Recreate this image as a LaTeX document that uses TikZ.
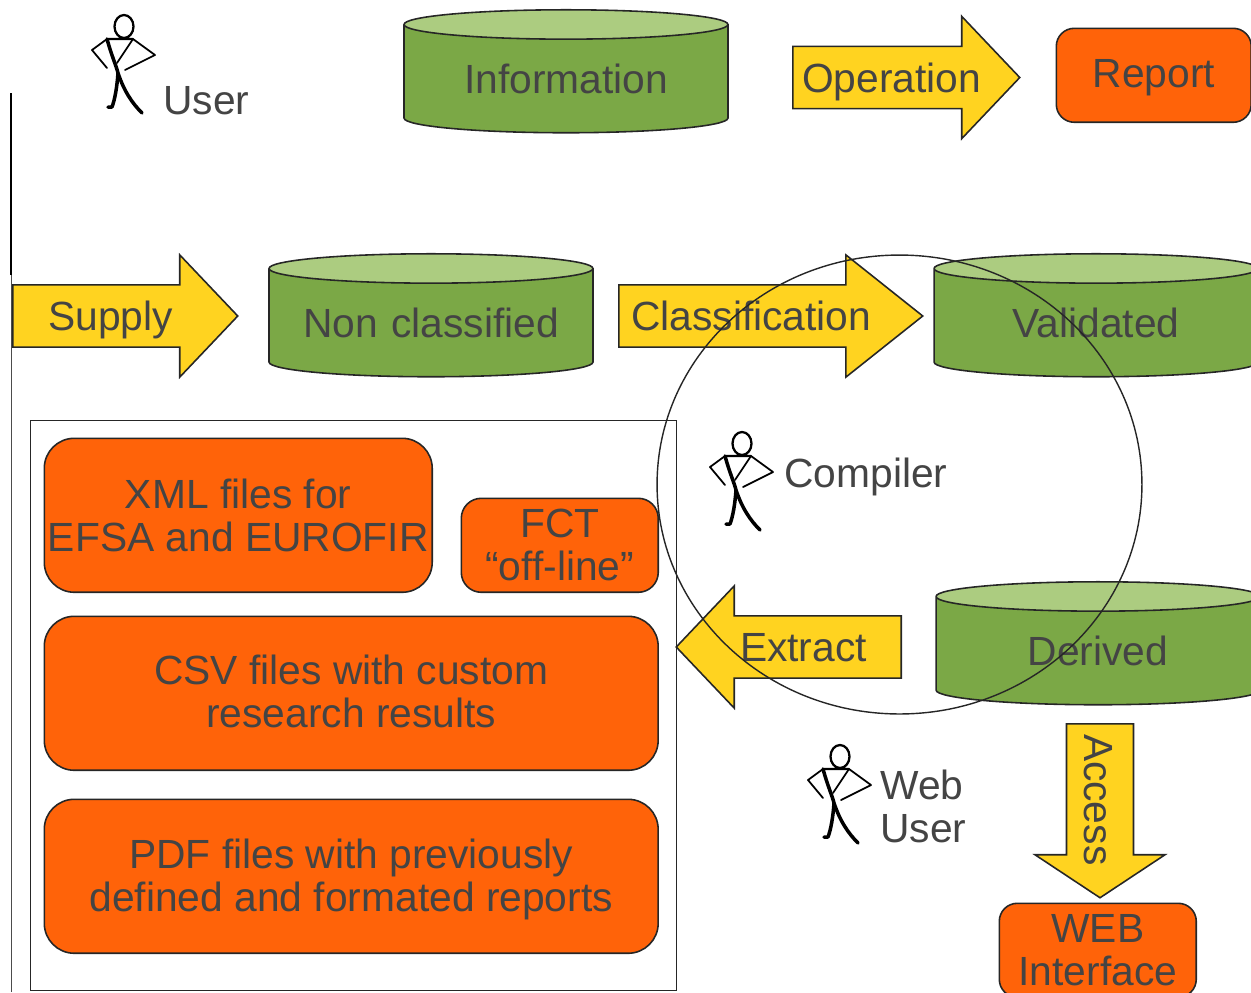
\documentclass[tikz,border=0pt]{standalone}
\usepackage{fontspec}
\setmainfont{Liberation Sans}
\usetikzlibrary{shapes.geometric,shapes.arrows}
\definecolor{boxorange}{HTML}{FF6309}
\definecolor{dbgreen}{HTML}{7BA846}
\definecolor{dbtop}{HTML}{ACCC80}
\definecolor{flowyellow}{HTML}{FFD320}
\definecolor{inktext}{HTML}{444444}

\begin{document}
\begin{tikzpicture}[
    x=0.02cm, y=-0.02cm,
    every node/.style={font=\fontsize{23.2}{24.4}\selectfont, text=inktext, align=center, inner sep=0pt},
    report/.style={draw=black!85, line width=0.9pt, fill=boxorange, rounded corners=#1, anchor=north west},
    store/.style={draw=black!85, line width=0.9pt, cylinder, shape border rotate=90, shape aspect=0.113,
        cylinder uses custom fill, cylinder body fill=dbgreen, cylinder end fill=dbtop,
        text width=5.2cm, minimum width=6.48cm, minimum height=2.46cm},
    flow/.style={draw=black!85, line width=0.9pt, fill=flowyellow, single arrow, single arrow head extend=0.6cm,
        single arrow tip angle=93, minimum width=2.42cm, text height=25.5pt, text depth=9pt, anchor=tail},
    person/.style={anchor=west},
    stickman/.pic={
        \draw[line width=1.3pt, line cap=round, line join=round, black]
            (34,11.5) ellipse (9.5 and 11.5)
            (17,24) -- (43,24);
        \draw[line width=2pt, line cap=round, line join=round, black]
            (17,24) .. controls (22,42) and (26,50) .. (28,58)
            (28,58) .. controls (27,72) and (25,84) .. (22,92) -- (18,92)
            (28,58) .. controls (34,76) and (42,88) .. (52,98);
        \draw[line width=1pt, line cap=round, line join=round, black]
            (43,24) -- (27,48)
            (17,24) -- (2,35) -- (17,53)
            (43,24) -- (65,40) -- (35,55);
    }
]
\path[use as bounding box, clip] (0,0) rectangle (1251,992);

% Left rail
\coordinate (railtop) at (11,93);
\coordinate (railmid) at (11,275);
\coordinate (railend) at (11,992);
\draw[line width=1.1pt, black] (railtop) -- (railmid);
\draw[line width=0.5pt, black!70] (railmid) -- (railend);

% Top row
\pic (user) at (90,15) {stickman};
\node[person] (userlabel) at (163,101) {User};
\node[store] (information) at (566,79) {Information};
\node[flow, minimum height=4.54cm] (operation) at (792,77.5) {Operation};
\node[report=18*0.02cm, minimum width=3.9cm, minimum height=1.88cm, label={[yshift=-1.2pt]center:Report}] (report) at (1055.5,27.5) {};

% Middle row
\node[flow, minimum height=4.5cm] (supply) at (12,316) {Supply};
\node[store] (nonclassified) at (431,323) {Non classified};
\node[flow, single arrow tip angle=77, minimum height=6.08cm] (classification) at (618,316) {Classification};
\node[store] (validated) at (1096,323) {Validated};

% Output files
\node[draw=black!85, line width=0.7pt, fill=white, anchor=north west, minimum width=12.92cm, minimum height=11.4cm] (files) at (30,420) {};
\node[report=30*0.02cm, minimum width=7.76cm, minimum height=3.08cm] (xml) at (43.5,437.5) {XML files for\\EFSA and EUROFIR};
\node[report=20*0.02cm, minimum width=3.94cm, minimum height=1.88cm] (fct) at (460.5,497.5) {FCT\\“off-line”};
\node[report=30*0.02cm, minimum width=12.28cm, minimum height=3.08cm, label={[yshift=1.1pt]center:CSV files with custom\\research results}] (csv) at (43.5,615.5) {};
\node[report=30*0.02cm, minimum width=12.28cm, minimum height=3.08cm, label={[yshift=-2pt]center:PDF files with previously\\defined and formated reports}] (pdf) at (43.5,798.5) {};

% Compiler
\pic (compiler) at (708,432) {stickman};
\node[person] (compilerlabel) at (784,477) {Compiler};
\node[store] (derived) at (1098,651) {Derived};
\node[flow, shape border rotate=180, minimum height=4.5cm] (extract) at (902,647) {Extract};

% Web user
\pic (webuser) at (806,745) {stickman};
\node[person, align=left] (webuserlabel) at (880,806) {Web\\User};
\node[flow, rotate=-90, single arrow tip angle=113, minimum width=2.6cm, minimum height=3.48cm, text height=26.4pt] (access) at (1100,723) {Access};
\node[report=18*0.02cm, minimum width=3.94cm, minimum height=1.88cm] (web) at (998.5,902.5) {WEB\\Interface};

% Compiler scope
\node[draw=black!85, line width=0.8pt, ellipse, minimum width=9.7cm, minimum height=9.18cm] (scope) at (899.5,484.5) {};
\end{tikzpicture}
\end{document}
